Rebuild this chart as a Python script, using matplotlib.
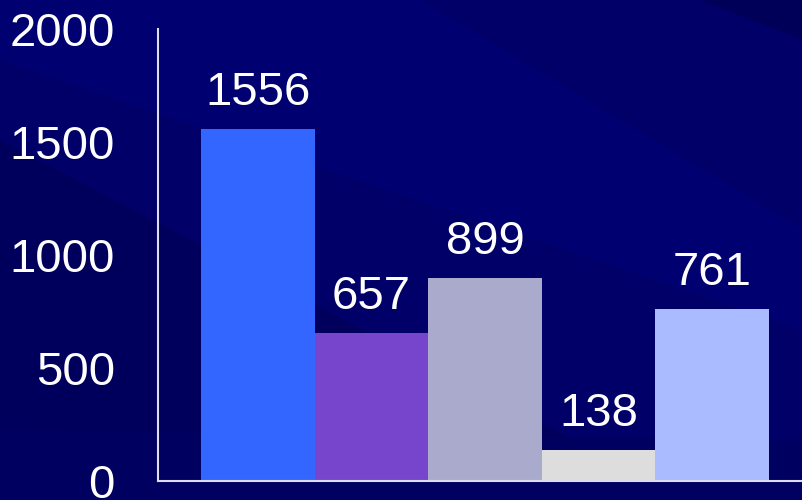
import numpy as np
import matplotlib.pyplot as plt
from matplotlib.patches import Polygon

values = [1556, 657, 899, 138, 761]
colors = ['#3366FF', '#7744CC', '#AAAACC', '#DDDDDD', '#AABBFF']
yticks = [0, 500, 1000, 1500, 2000]

plt.rcParams['font.family'] = ['Liberation Sans', 'DejaVu Sans']

fig = plt.figure(figsize=(8.03, 5.0), dpi=100)
fig.patch.set_facecolor('#000068')

# subtle diagonal bands in the background
bg = fig.add_axes([0, 0, 1, 1])
bg.set_xlim(0, 803)
bg.set_ylim(500, 0)
bg.axis('off')
bands = [
    ([(0, 140), (803, 560), (803, 500), (0, 500)], '#00005C'),
    ([(0, 0), (420, 0), (803, 230), (803, 330), (0, 60)], '#000070'),
    ([(700, 0), (803, 0), (803, 40)], '#000058'),
    ([(0, 430), (803, 440), (803, 500), (0, 500)], '#000060'),
]
for pts, c in bands:
    bg.add_patch(Polygon(pts, closed=True, facecolor=c, edgecolor='none'))

ax = fig.add_axes([158 / 803, 19 / 500, 645 / 803, 452 / 500])
ax.patch.set_alpha(0)
x = np.arange(len(values))
ax.bar(x, values, width=1.0, color=colors)
ax.set_xlim(-0.878, 4.8)
ax.set_ylim(0, 2000)

for xi, v in zip(x, values):
    ax.annotate(str(v), (xi, v), xytext=(0, 10), textcoords='offset points',
                ha='center', va='bottom', color='white', fontsize=34)

ax.set_yticks(yticks)
ax.set_yticklabels([str(t) for t in yticks])
ax.tick_params(axis='y', length=0, pad=31, labelsize=34, labelcolor='white')
ax.tick_params(axis='x', length=0, labelbottom=False)
for s in ['top', 'right']:
    ax.spines[s].set_visible(False)
for s in ['left', 'bottom']:
    ax.spines[s].set_color('#DDDDEE')
    ax.spines[s].set_linewidth(1.5)

fig.savefig('out.png', dpi=100, facecolor=fig.get_facecolor())
